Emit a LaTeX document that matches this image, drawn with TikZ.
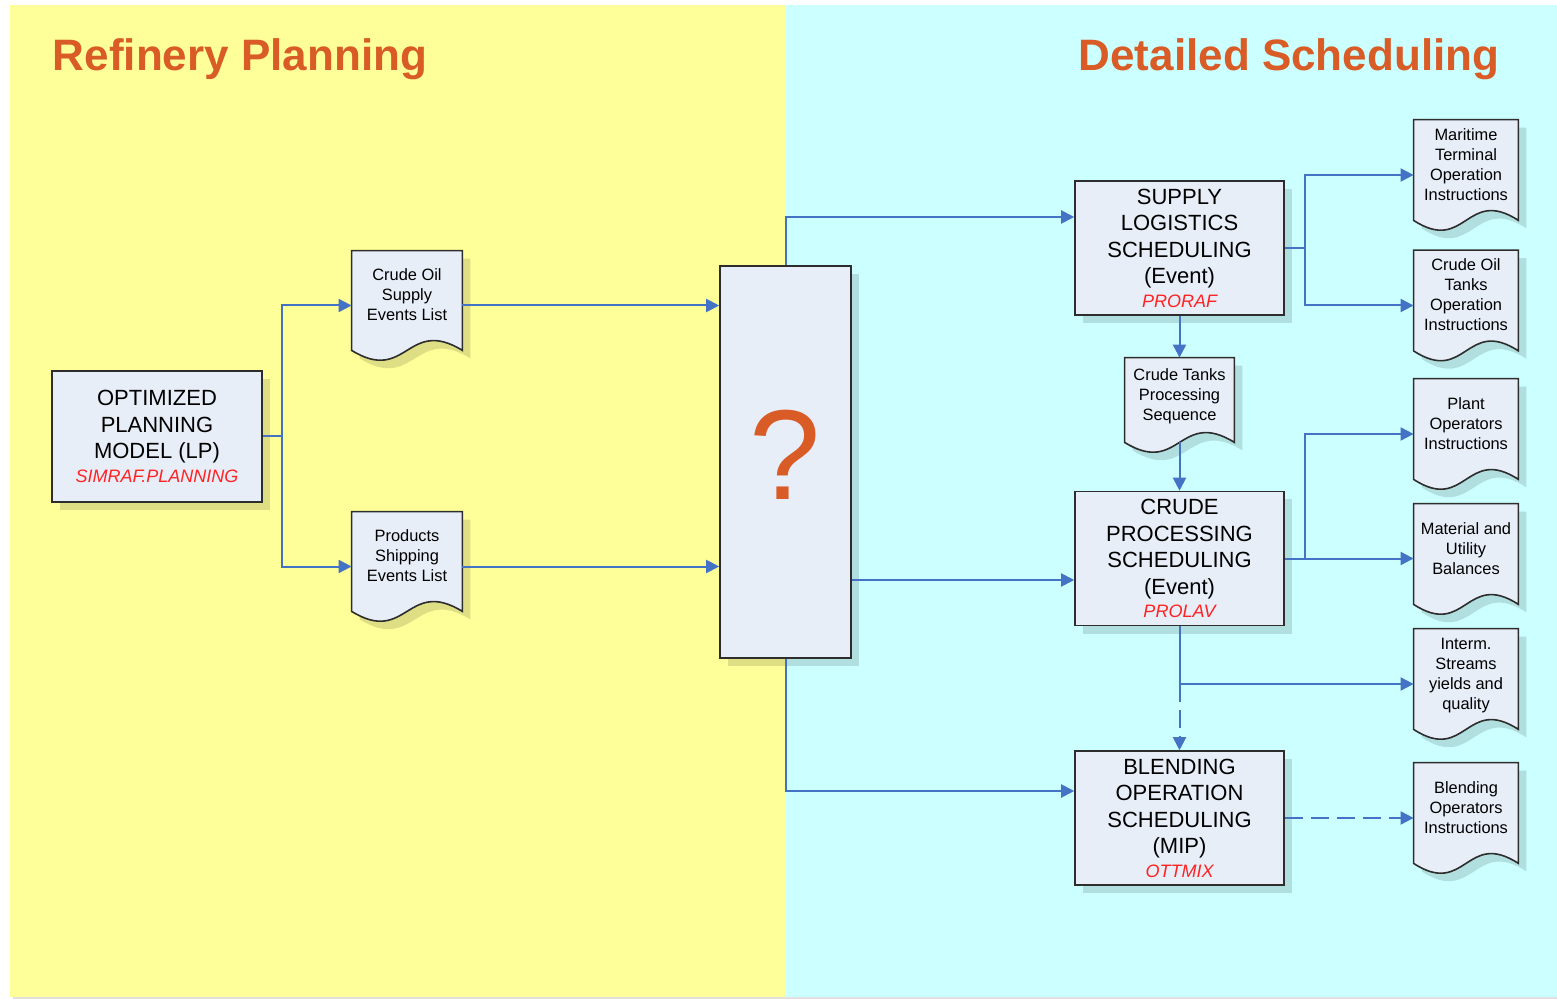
\documentclass[tikz,border=0pt]{standalone}
\usepackage{fontspec}
\setmainfont{Liberation Sans}
\usetikzlibrary{arrows.meta, positioning, calc, shadows, backgrounds}
\definecolor{planyellow}{RGB}{255,255,153}
\definecolor{schedcyan}{RGB}{204,255,255}
\definecolor{boxfill}{RGB}{232,238,248}
\definecolor{boxline}{RGB}{45,45,45}
\definecolor{linkblue}{RGB}{68,114,196}
\definecolor{headorange}{RGB}{217,91,38}
\definecolor{progred}{RGB}{255,35,35}
\pgfdeclarelayer{sheet}
\pgfsetlayers{background,sheet,main}
\newcommand{\prog}[1]{{\color{progred}\itshape\fontsize{9}{12}\selectfont #1}}
\newcommand{\sheetpath}[1]{(#1.north west) -- ([yshift=5pt]#1.south west) .. controls ([yshift=-12pt]#1.south) and ([yshift=22pt]#1.south) .. ([yshift=5pt]#1.south east) -- (#1.north east) -- cycle}
\tikzset{
	heading/.style={font=\bfseries\fontsize{22}{26}\selectfont, text=headorange, anchor=base},
	task/.style={rectangle, draw=boxline, fill=boxfill, line width=0.8pt, align=center, inner sep=1pt, minimum width=104.5pt, minimum height=67pt, font=\fontsize{11}{13.25}\selectfont, drop shadow={shadow xshift=4pt, shadow yshift=-4pt, fill=black, opacity=0.13}},
	sheet/.style={rectangle, inner sep=1pt, align=center, minimum width=52pt, minimum height=55pt, text depth=10.5pt, font=\fontsize{8.2}{10}\selectfont},
	sheetline/.style={draw=boxline, fill=boxfill, line width=0.8pt},
	sheetshade/.style={fill=black, opacity=0.13, transform canvas={xshift=4pt, yshift=-4pt}},
	wire/.style={draw=linkblue, line width=1pt},
	link/.style={wire, -{Triangle[length=6.5pt, width=6.5pt]}},
	dashlink/.style={link, dash pattern=on 9pt off 4pt},
}

\begin{document}
\begin{tikzpicture}[x=0.5pt, y=-0.5pt]
	\useasboundingbox (0,0) rectangle (1557,999);
	\begin{scope}[on background layer]
		\fill[planyellow, drop shadow={shadow xshift=1.5pt, shadow yshift=-1.5pt, fill=black, opacity=0.12}] (10,5) rectangle (786,997);
		\fill[schedcyan, drop shadow={shadow xshift=1.5pt, shadow yshift=-1.5pt, fill=black, opacity=0.12}] (786,5) rectangle (1557,997);
	\end{scope}

	\node[heading] (plantitle) at (240,71) {Refinery Planning};
	\node[heading] (schedtitle) at (1289,71) {Detailed Scheduling};

	% planning side
	\node[task, minimum width=105pt, minimum height=65.5pt] (plan) at (157,436.5) {OPTIMIZED\\PLANNING\\MODEL (LP)\\[-1.5pt]\prog{SIMRAF.PLANNING}};
	\node[sheet, minimum width=55pt, minimum height=54.5pt] (supev) at (407,305.5) {Crude Oil\\Supply\\Events List};
	\node[sheet, minimum width=55pt, minimum height=54.5pt] (prodev) at (407,566.5) {Products\\Shipping\\Events List};
	\node[task, minimum width=65.5pt, minimum height=196pt, font=\fontsize{64}{64}\selectfont, text=headorange, text depth=7pt] (quest) at (785.5,462) {?};

	% scheduling side
	\node[task] (supply) at (1179.5,248) {SUPPLY\\LOGISTICS\\SCHEDULING\\(Event)\\[-1.5pt]\prog{PRORAF}};
	\node[sheet, minimum width=54.5pt, minimum height=47pt] (tanks) at (1179.5,405) {Crude Tanks\\Processing\\Sequence};
	\node[task] (crude) at (1179.5,558.5) {CRUDE\\PROCESSING\\SCHEDULING\\(Event)\\[-1.5pt]\prog{PROLAV}};
	\node[task] (blend) at (1179.5,818) {BLENDING\\OPERATION\\SCHEDULING\\(MIP)\\[-1.5pt]\prog{OTTMIX}};

	\node[sheet] (maritime) at (1466,175) {Maritime\\Terminal\\Operation\\Instructions};
	\node[sheet] (oiltanks) at (1466,305.5) {Crude Oil\\Tanks\\Operation\\Instructions};
	\node[sheet] (plant) at (1466,434) {Plant\\Operators\\Instructions};
	\node[sheet] (balances) at (1466,559) {Material and\\Utility\\Balances};
	\node[sheet] (interm) at (1466,684) {Interm.\\Streams\\yields and\\quality};
	\node[sheet] (blendops) at (1466,818) {Blending\\Operators\\Instructions};

	\foreach \s in {supev,prodev,tanks,maritime,oiltanks,plant,balances,interm,blendops}{
		\begin{pgfonlayer}{sheet}
			\fill[sheetshade] \sheetpath{\s};
			\filldraw[sheetline] \sheetpath{\s};
		\end{pgfonlayer}
	}

	% connectors
	\coordinate (plansplit) at ([xshift=9.5pt]plan.east);
	\draw[wire] (plan.east) -- (plansplit);
	\draw[link] (plansplit) |- (supev);
	\draw[link] (plansplit) |- (prodev);
	\draw[link] (supev) -- (supev -| quest.west);
	\draw[link] (prodev) -- (prodev -| quest.west);

	\coordinate (supplyin) at ([yshift=15.5pt]supply.west);
	\coordinate (crudein) at ([yshift=-10.75pt]crude.west);
	\coordinate (blendin) at ([yshift=13.5pt]blend.west);
	\draw[link] (quest.north) |- (supplyin);
	\draw[link] (quest.east |- crudein) -- (crudein);
	\draw[link] (quest.south) |- (blendin);

	\draw[link] (supply) -- (tanks);
	\draw[link] ([yshift=5pt]tanks.south) -- (crude.north);

	\coordinate (supplysplit) at ([xshift=10pt]supply.east);
	\draw[wire] (supply.east) -- (supplysplit);
	\draw[link] (supplysplit) |- (maritime);
	\draw[link] (supplysplit) |- (oiltanks);

	\coordinate (crudesplit) at ([xshift=10pt]crude.east);
	\draw[link] (crude.east) -- (crude.east -| balances.west);
	\draw[link] (crudesplit) |- (plant);

	\coordinate (intermsplit) at (crude.south |- interm.west);
	\draw[wire] (crude.south) -- (intermsplit);
	\draw[link] (intermsplit) -- (interm);
	\draw[dashlink] (intermsplit) -- (blend);
	\draw[dashlink] (blend) -- (blendops);
\end{tikzpicture}
\end{document}
